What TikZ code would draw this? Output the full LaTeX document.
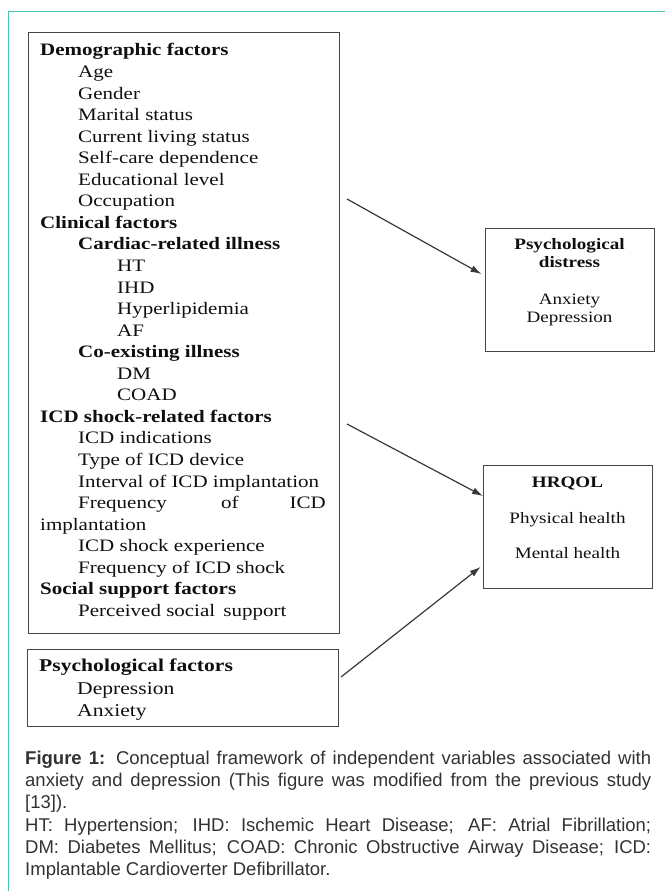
\documentclass[tikz,border=0pt]{standalone}
\usepackage{fontspec}
\setmainfont{Liberation Serif}[FakeStretch=1.2]
\newfontfamily\capfont{Liberation Sans}
\usetikzlibrary{arrows.meta}
\definecolor{frameteal}{RGB}{72,200,178}
\definecolor{boxc}{RGB}{70,70,70}
\definecolor{capc}{RGB}{50,50,50}
\definecolor{txtc}{RGB}{15,15,15}
\newcommand\mainsz{\fontsize{17.5pt}{21pt}\selectfont}
\newcommand\sidesz{\fontsize{15.9pt}{18pt}\selectfont}
\newcommand\pfsz{\fontsize{18pt}{22pt}\selectfont}
\newcommand\capsz{\fontsize{18.5pt}{22pt}\selectfont}
\begin{document}
\begin{tikzpicture}[x=1pt,y=-1pt,
  box/.style={draw=boxc, line width=1.3pt, inner sep=0pt, fill=none},
  tl/.style={anchor=base west, inner sep=0pt, text=txtc, font=\mainsz},
  th/.style={tl, font=\mainsz\bfseries},
  sc/.style={anchor=base, inner sep=0pt, text=txtc, font=\sidesz},
  sh/.style={sc, font=\sidesz\bfseries},
  pl/.style={anchor=base west, inner sep=0pt, text=txtc, font=\pfsz},
  ph/.style={pl, font=\pfsz\bfseries},
  captxt/.style={anchor=base west, inner sep=0pt, text=capc, font=\capfont\capsz},
  arr/.style={draw=boxc!80!black, line width=1.2pt, -{Latex[length=11pt,width=7pt]}}
]
\useasboundingbox (0,0) rectangle (665,891);
% outer frame
\draw[frameteal, line width=1.2pt] (8.5,891) -- (8.5,11.5) -- (665,11.5);

% main box
\node[box, minimum width=311pt, minimum height=601pt, anchor=north west] (main) at (28,32) {};
\def\bl#1{{56+21.55*#1}}
\node[th] (t0) at (40,\bl{0}) {Demographic factors};
\node[tl] (t1) at (78,\bl{1}) {Age};
\node[tl] (t2) at (78,\bl{2}) {Gender};
\node[tl] (t3) at (78,\bl{3}) {Marital status};
\node[tl] (t4) at (78,\bl{4}) {Current living status};
\node[tl] (t5) at (78,\bl{5}) {Self-care dependence};
\node[tl] (t6) at (78,\bl{6}) {Educational level};
\node[tl] (t7) at (78,\bl{7}) {Occupation};
\node[th] (t8) at (40,\bl{8}) {Clinical factors};
\node[th] (t9) at (78,\bl{9}) {Cardiac-related illness};
\node[tl] (t10) at (117,\bl{10}) {HT};
\node[tl] (t11) at (117,\bl{11}) {IHD};
\node[tl] (t12) at (117,\bl{12}) {Hyperlipidemia};
\node[tl] (t13) at (117,\bl{13}) {AF};
\node[th] (t14) at (78,\bl{14}) {Co-existing illness};
\node[tl] (t15) at (117,\bl{15}) {DM};
\node[tl] (t16) at (117,\bl{16}) {COAD};
\node[th] (t17) at (40,\bl{17}) {ICD shock-related factors};
\node[tl] (t18) at (78,\bl{18}) {ICD indications};
\node[tl] (t19) at (78,\bl{19}) {Type of ICD device};
\node[tl] (t20) at (78,\bl{20}) {Interval of ICD implantation};
\node[tl] (t21a) at (78,\bl{21}) {Frequency};
\node[tl] (t21b) at (221,\bl{21}) {of};
\node[tl, anchor=base east] (t21c) at (326,\bl{21}) {ICD};
\node[tl] (t22) at (40,\bl{22}) {implantation};
\node[tl] (t23) at (78,\bl{23}) {ICD shock experience};
\node[tl] (t24) at (78,\bl{24}) {Frequency of ICD shock};
\node[th] (t25) at (40,\bl{25}) {Social support factors};
\node[tl] (t26) at (78,\bl{26}) {Perceived social\, support};

% psychological distress box
\node[box, minimum width=169pt, minimum height=123pt, anchor=north west] (pd) at (485,228) {};
\node[sh] (pd1) at (569.5,249) {Psychological};
\node[sh] (pd2) at (569.5,267) {distress};
\node[sc] (pd3) at (569.5,304) {Anxiety};
\node[sc] (pd4) at (569.5,322) {Depression};

% HRQOL box
\node[box, minimum width=169pt, minimum height=123pt, anchor=north west] (hr) at (483,465) {};
\node[sh] (hr1) at (567.5,487) {HRQOL};
\node[sc] (hr2) at (567.5,523) {Physical health};
\node[sc] (hr3) at (567.5,558) {Mental health};

% psychological factors box
\node[box, minimum width=311pt, minimum height=77pt, anchor=north west] (pf) at (27,649) {};
\node[ph] (pf1) at (39,671) {Psychological factors};
\node[pl] (pf2) at (77,694) {Depression};
\node[pl] (pf3) at (77,716) {Anxiety};

% arrows
\coordinate (s1) at (347,199);
\coordinate (e1) at (0,276);
\coordinate (s2) at (347,424);
\coordinate (e2) at (0,496);
\coordinate (s3) at (341,677);
\coordinate (e3) at (0,565);
\draw[arr, shorten >=4pt] (s1) -- (pd.west |- e1);
\draw[arr] (s2) -- (hr.west |- e2);
\draw[arr, shorten >=3pt] (s3) -- (hr.west |- e3);

% caption
\node[captxt] (c1) at (25,764) {\makebox[626pt][s]{\textbf{Figure 1:} Conceptual framework of independent variables associated with}};
\node[captxt] (c2) at (25,786) {\makebox[626pt][s]{anxiety and depression (This figure was modified from the previous study}};
\node[captxt] (c3) at (25,808) {[13]).};
\node[captxt] (c4) at (25,831) {\makebox[626pt][s]{HT: Hypertension; IHD: Ischemic Heart Disease; AF: Atrial Fibrillation;}};
\node[captxt] (c5) at (25,853) {\makebox[626pt][s]{DM: Diabetes Mellitus; COAD: Chronic Obstructive Airway Disease; ICD:}};
\node[captxt] (c6) at (25,875) {Implantable Cardioverter Defibrillator.};
\end{tikzpicture}
\end{document}
